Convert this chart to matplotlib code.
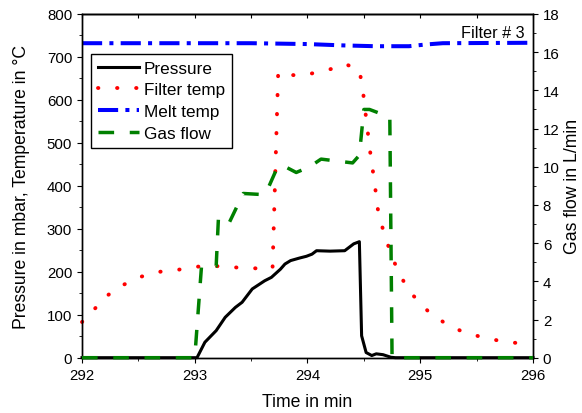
import matplotlib
matplotlib.use("Agg")
import matplotlib.pyplot as plt
from matplotlib.ticker import MultipleLocator

# time axis (min)
t_press = [292.0, 293.0, 293.02, 293.09, 293.19, 293.27, 293.36, 293.42, 293.51, 293.62, 293.68,
           293.76, 293.80, 293.85, 293.93, 293.99, 294.04, 294.08, 294.20, 294.33, 294.41, 294.46,
           294.47, 294.48, 294.52, 294.57, 294.61, 294.67, 294.74, 294.78, 296.0]
pressure = [0, 0, 0, 36, 63, 94, 117, 129, 160, 179, 187,
            206, 218, 226, 232, 236, 241, 249, 248, 249, 265, 270,
            160, 51, 12, 5, 9, 7, 1, 0, 0]

t_filter = [292.0, 292.11, 292.22, 292.37, 292.53, 292.69, 292.86, 293.03, 293.2, 293.37, 293.54,
            293.69, 293.74, 293.79, 293.94, 294.08, 294.21, 294.33, 294.46, 294.49, 294.51, 294.53,
            294.55, 294.60, 294.62, 294.66, 294.71, 294.77, 294.85, 294.94, 295.07, 295.21, 295.37,
            295.53, 295.69, 295.86, 295.95]
filter_temp = [83, 113, 144, 170, 189, 200, 205, 212, 213, 210, 208,
               208, 664, 660, 656, 664, 672, 684, 670, 625, 579, 536,
               490, 397, 350, 307, 265, 222, 179, 144, 108, 82, 61,
               49, 40, 34, 32]

t_melt = [292.0, 293.5, 294.0, 294.3, 294.6, 294.9, 295.05, 295.2, 296.0]
melt_temp = [732, 732, 730, 727, 725, 725, 729, 732, 733]

t_gas = [292.0, 293.0, 293.06, 293.19, 293.21, 293.30, 293.43, 293.58, 293.63, 293.72, 293.77,
         293.90, 294.02, 294.12, 294.40, 294.46, 294.50, 294.55, 294.73, 294.75, 296.0]
gas_flow = [0, 0, 4.8, 4.8, 7.3, 7.0, 8.6, 8.55, 8.6, 9.8, 10.1,
            9.7, 10.0, 10.4, 10.2, 10.6, 13.0, 13.0, 12.6, 0, 0]

plt.rcParams.update({
    "font.family": ["Liberation Sans", "DejaVu Sans"],
    "axes.linewidth": 1.0,
    "xtick.major.size": 3.6, "ytick.major.size": 3.6,
    "xtick.minor.size": 2.2, "ytick.minor.size": 2.2,
    "xtick.direction": "out", "ytick.direction": "out",
    "xtick.labelsize": 10.8, "ytick.labelsize": 10.8,
})

fig = plt.figure(figsize=(5.82, 4.14), dpi=100)
ax = fig.add_axes([0.1409, 0.1336, 0.7749, 0.8302])
ax2 = ax.twinx()

l1, = ax.plot(t_press, pressure, color="black", lw=2.2, label="Pressure", clip_on=False, zorder=3)
l2, = ax.plot(t_filter, filter_temp, color="red", lw=2.8, ls=(0, (0.1, 4.8)),
              dash_capstyle="round", label="Filter temp", clip_on=False, zorder=2)
l3, = ax.plot(t_melt, melt_temp, color="blue", lw=2.9, ls=(0, (5, 1.8, 1, 1.8)),
              label="Melt temp", zorder=2)
l4, = ax2.plot(t_gas, gas_flow, color="green", lw=2.5, ls=(0, (4.5, 4.5)),
               label="Gas flow", clip_on=False, zorder=3)

ax.set_xlim(292, 296)
ax.set_ylim(0, 800)
ax2.set_ylim(0, 18)

ax.xaxis.set_major_locator(MultipleLocator(1))
ax.xaxis.set_minor_locator(MultipleLocator(0.5))
ax.yaxis.set_major_locator(MultipleLocator(100))
ax.yaxis.set_minor_locator(MultipleLocator(50))
ax2.yaxis.set_major_locator(MultipleLocator(2))
ax2.yaxis.set_minor_locator(MultipleLocator(1))

# inward ticks along the top edge, no labels
top = ax.secondary_xaxis("top")
top.xaxis.set_major_locator(MultipleLocator(0.5))
top.tick_params(direction="in", length=3.0, labeltop=False)

ax.set_xlabel("Time in min", fontsize=12.7, labelpad=8)
ax.set_ylabel("Pressure in mbar, Temperature in \u00b0C", fontsize=12.7, labelpad=12)
ax2.set_ylabel("Gas flow in L/min", fontsize=12.7, labelpad=3)

ax.text(0.982, 0.945, "Filter # 3", transform=ax.transAxes, ha="right", va="center",
        fontsize=11.7)

leg = ax2.legend(handles=[l1, l2, l3, l4], loc="upper left", bbox_to_anchor=(0.02, 0.884),
                 borderaxespad=0, fontsize=12.3, fancybox=False, edgecolor="black",
                 framealpha=1, handlelength=2.4, handletextpad=0.3, labelspacing=0.39,
                 borderpad=0.4)
leg.get_frame().set_linewidth(1.0)

fig.savefig("out.png", dpi=100)
